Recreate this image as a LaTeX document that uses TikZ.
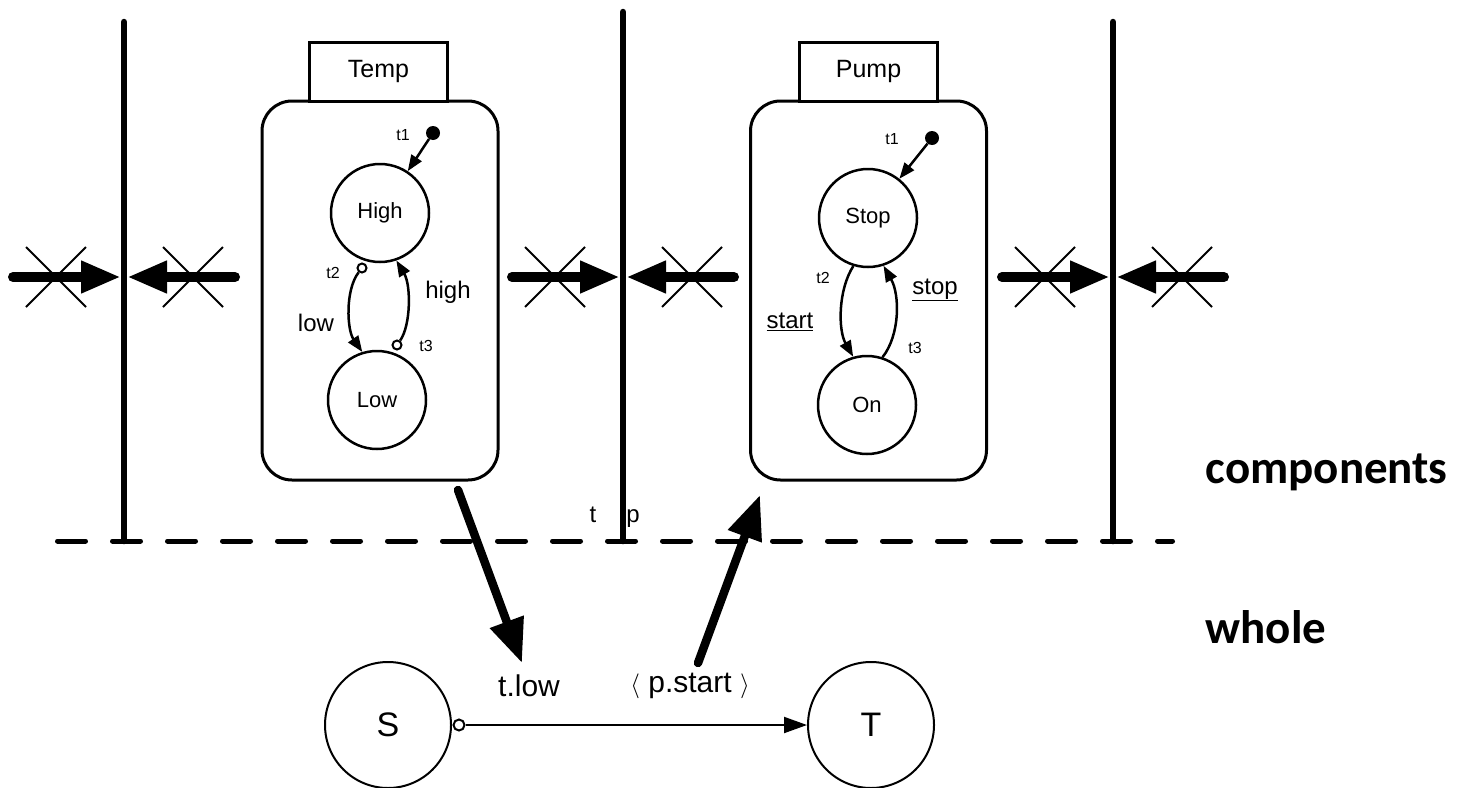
\documentclass[tikz,border=0pt]{standalone}
\usepackage{fontspec}
\setmainfont{Liberation Sans}
\newfontfamily\niveaufont{Carlito}
\usetikzlibrary{arrows.meta,backgrounds}

\begin{document}
\begin{tikzpicture}[%
    x=1pt,y=-1pt,%
    show background rectangle,%
    tight background,%
    background rectangle/.style={fill=white}%
    ]
    %
    % Définitions
    %
    \pgfmathsetmacro{\yf}{277};% flèches bloquées
    \pgfmathsetmacro{\ys}{541};% séparation composants / tout
    \pgfmathsetmacro{\yb}{725};% machine globale
    \useasboundingbox (0,0) rectangle (1463,787);%

    %
    % Styles
    %
    \tikzset{%
        barre/.style={line width=6.5pt,line cap=round},%
        fleche/.style={line width=10pt,line cap=round,-{Triangle[length=40pt,width=30pt]}},%
        croix/.style={line width=2pt},%
        composant/.style={draw,line width=3pt,rounded corners=30pt,minimum width=236pt,minimum height=379pt},%
        onglet/.style={draw,line width=3pt,fill=white,minimum width=138pt,minimum height=59pt,font=\fontsize{25}{30}\selectfont},%
        etat/.style={circle,draw,line width=2.5pt,minimum size=98pt,inner sep=0pt,font=\fontsize{22}{26}\selectfont},%
        init/.style={circle,fill,minimum size=14pt,inner sep=0pt},%
        garde/.style={circle,draw,line width=2pt,fill=white,minimum size=9pt,inner sep=0pt},%
        trans/.style={line width=2.5pt,-{Triangle[length=16pt,width=12pt]}},%
        petit/.style={font=\fontsize{16}{19}\selectfont},%
        evt/.style={font=\fontsize{24}{28}\selectfont},%
        lien/.style={line width=8.5pt,line cap=round,-{Triangle[length=44pt,width=34pt]}},%
        tout/.style={circle,draw,line width=2pt,minimum size=126pt,inner sep=0pt,font=\fontsize{34}{40}\selectfont},%
        niveau/.style={anchor=base west,font=\niveaufont\bfseries\fontsize{47}{56}\selectfont}%
    };%

    %
    % Dessin
    %
    % Barres et flèches bloquées
    \foreach \xb/\yh in {124/22,623/12,1113/22}{%
        \coordinate (haut\xb) at (\xb,\yh);%
        \coordinate (bas\xb) at (\xb,\ys);%
        \coordinate (gd\xb) at (\xb-111,\yf);%
        \coordinate (ga\xb) at (\xb-3,\yf);%
        \coordinate (dd\xb) at (\xb+111,\yf);%
        \coordinate (da\xb) at (\xb+3,\yf);%
        \draw[barre] (haut\xb) -- (bas\xb);%
        \draw[fleche] (gd\xb) -- (ga\xb);%
        \draw[fleche] (dd\xb) -- (da\xb);%
        \draw[croix] (\xb-98,\yf-30) -- (\xb-38,\yf+30);%
        \draw[croix] (\xb-38,\yf-30) -- (\xb-98,\yf+30);%
        \draw[croix] (\xb+39,\yf-30) -- (\xb+99,\yf+30);%
        \draw[croix] (\xb+99,\yf-30) -- (\xb+39,\yf+30);%
    }%

    % Séparation
    \draw[line width=5pt,line cap=round,dash pattern=on 28pt off 27pt] (57.5,\ys) -- (1172.5,\ys);%

    % Composant Temp
    \node[composant] (temp) at (380,290.5) {};%
    \node[onglet] (ongtemp) at (378.5,71.5) {Temp};%
    \node[etat] (high) at (380,213) {High};%
    \node[etat] (low) at (377,400) {Low};%
    \node[init] (inittemp) at (433,133) {};%
    \node[garde] (t2temp) at (362,268) {};%
    \node[garde] (t3temp) at (397,345) {};%
    \draw[trans] (inittemp) -- (high);%
    \draw[trans] (t2temp) .. controls (345,290) and (347,330) .. (low.107);%
    \draw[trans] (t3temp) .. controls (411,325) and (411,285) .. (high.-71);%
    \node[petit] (lt1temp) at (403,135) {t1};%
    \node[petit] (lt2temp) at (333,273) {t2};%
    \node[petit] (lt3temp) at (426,346) {t3};%
    \node[evt] (llow) at (316,323) {low};%
    \node[evt] (lhigh) at (448,292) {high};%

    % Composant Pump
    \node[composant] (pump) at (868.5,290.5) {};%
    \node[onglet] (ongpump) at (868.5,71.5) {Pump};%
    \node[etat] (stop) at (868,218) {Stop};%
    \node[etat] (on) at (867,405) {On};%
    \node[init] (initpump) at (932,138) {};%
    \draw[trans] (initpump) -- (stop);%
    \draw[trans] (stop.-107) .. controls (838,290) and (838,330) .. (on.106);%
    \draw[trans] (on.72) .. controls (900,335) and (900,295) .. (stop.-72);%
    \node[petit] (lt1pump) at (892,139) {t1};%
    \node[petit] (lt2pump) at (823,278) {t2};%
    \node[petit] (lt3pump) at (915,348) {t3};%
    \node[evt] (lstart) at (790,322) {\underline{start}};%
    \node[evt] (lstop) at (935,290) {\underline{stop}};%

    % Noms sur la séparation
    \node[evt,anchor=base] (nt) at (593,522) {t};%
    \node[evt,anchor=base] (np) at (633,522) {p};%

    % Liens composants / tout
    \coordinate (tdep) at (458,490);%
    \coordinate (tarr) at (522,663);%
    \coordinate (pdep) at (698,663);%
    \coordinate (parr) at (760,495);%
    \draw[lien] (tdep) -- (tarr);%
    \draw[lien] (pdep) -- (parr);%

    % Machine globale
    \node[tout] (S) at (388,\yb) {S};%
    \node[tout] (T) at (871,\yb) {T};%
    \node[garde,minimum size=11pt] (gS) at (459,\yb) {};%
    \draw[line width=2pt,-{Triangle[length=23pt,width=16pt]}] (gS) -- (T);%
    \node[font=\fontsize{30}{36}\selectfont] (ltlow) at (529,686) {t.low};%
    \node[font=\fontsize{30}{36}\selectfont] (lpstart) at (690,686) {$\langle$ p.start $\rangle$};%

    % Niveaux
    \node[niveau] (ncomp) at (1202,483) {components};%
    \node[niveau] (nwhole) at (1202,643) {whole};%
\end{tikzpicture}
\end{document}
